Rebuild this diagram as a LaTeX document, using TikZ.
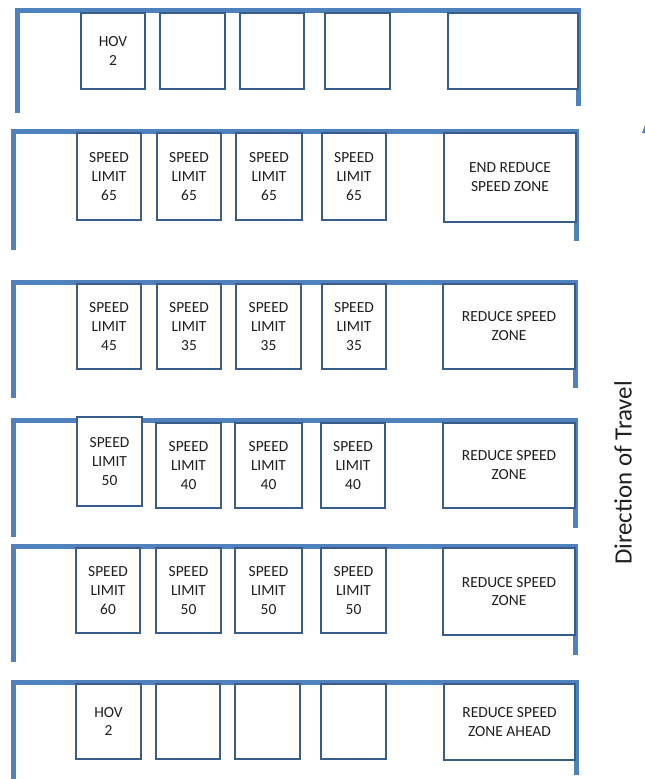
\documentclass[tikz,border=0pt]{standalone}
\usepackage{fontspec}
\setmainfont{Carlito}
\definecolor{beam}{HTML}{4F81BD}
\definecolor{edge}{HTML}{385D8A}
\definecolor{ink}{HTML}{1F1F1F}
\newcommand\gsign[6]{\node[signbox,minimum width={(#3-#2)*1bp},minimum height={(#5-#4)*1bp}] (#1) at ({(#2+#3)/2},{(#4+#5)/2}) {#6};}
\newcommand\gantry[5]{\draw[beamline] (#1,#4) -- (#1,#2) -- (#3,#2) -- (#3,#5);}
\begin{document}
\begin{tikzpicture}[x=1bp,y=-1bp,
  beamline/.style={draw=beam,line width=5bp,line join=miter},
  signbox/.style={draw=edge,line width=2.3bp,fill=white,inner sep=0pt,align=center,text=ink,font=\fontsize{15.5}{19}\selectfont}]
\useasboundingbox (0,0) rectangle (645,779);
% gantries
\gantry{17}{10.5}{578}{113}{106}
\gantry{13.5}{131}{576}{250}{241}
\gantry{13.5}{282}{575}{398}{388}
\gantry{13.5}{420.5}{575}{537}{528}
\gantry{13.5}{546}{575}{662}{655}
\gantry{13}{682}{576}{779}{775}
% gantry 1
\gsign{a1}{81}{145}{13}{89}{HOV\\2}
\gsign{a2}{160}{225}{13}{89}{}
\gsign{a3}{240}{304}{13}{89}{}
\gsign{a4}{325}{390}{13}{89}{}
\gsign{a5}{448}{578}{13}{89}{}
% gantry 2
\gsign{b1}{77}{141}{133}{220}{SPEED\\LIMIT\\65}
\gsign{b2}{157}{221}{133}{220}{SPEED\\LIMIT\\65}
\gsign{b3}{236}{302}{133}{220}{SPEED\\LIMIT\\65}
\gsign{b4}{322}{386}{133}{220}{SPEED\\LIMIT\\65}
\gsign{b5}{444}{576}{133}{222}{END REDUCE\\SPEED ZONE}
% gantry 3
\gsign{c1}{77}{141}{284}{369}{SPEED\\LIMIT\\45}
\gsign{c2}{157}{221}{284}{369}{SPEED\\LIMIT\\35}
\gsign{c3}{236}{301}{284}{369}{SPEED\\LIMIT\\35}
\gsign{c4}{322}{386}{284}{369}{SPEED\\LIMIT\\35}
\gsign{c5}{443}{575}{284}{369}{REDUCE SPEED\\ZONE}
% gantry 4
\gsign{d1}{77}{142}{417}{506}{SPEED\\LIMIT\\50}
\gsign{d2}{156}{221}{423}{508}{SPEED\\LIMIT\\40}
\gsign{d3}{235}{302}{423}{508}{SPEED\\LIMIT\\40}
\gsign{d4}{321}{385}{423}{508}{SPEED\\LIMIT\\40}
\gsign{d5}{443}{575}{423}{508}{REDUCE SPEED\\ZONE}
% gantry 5
\gsign{e1}{76}{140}{548}{633}{SPEED\\LIMIT\\60}
\gsign{e2}{156}{221}{548}{633}{SPEED\\LIMIT\\50}
\gsign{e3}{235}{302}{548}{633}{SPEED\\LIMIT\\50}
\gsign{e4}{321}{386}{548}{633}{SPEED\\LIMIT\\50}
\gsign{e5}{443}{575}{548}{635}{REDUCE SPEED\\ZONE}
% gantry 6
\gsign{f1}{76}{141}{684}{759}{HOV\\2}
\gsign{f2}{156}{220}{684}{759}{}
\gsign{f3}{235}{300}{684}{759}{}
\gsign{f4}{321}{386}{684}{759}{}
\gsign{f5}{444}{575}{684}{760}{REDUCE SPEED\\ZONE AHEAD}
% direction label
\node[rotate=90,inner sep=0pt,text=ink,font=\fontsize{25}{30}\selectfont] (dir) at (623,473) {Direction of Travel};
% partial arrow tip at the edge
\fill[beam] (642,133) -- (645,125) -- (645,133) -- cycle;
\end{tikzpicture}
\end{document}
